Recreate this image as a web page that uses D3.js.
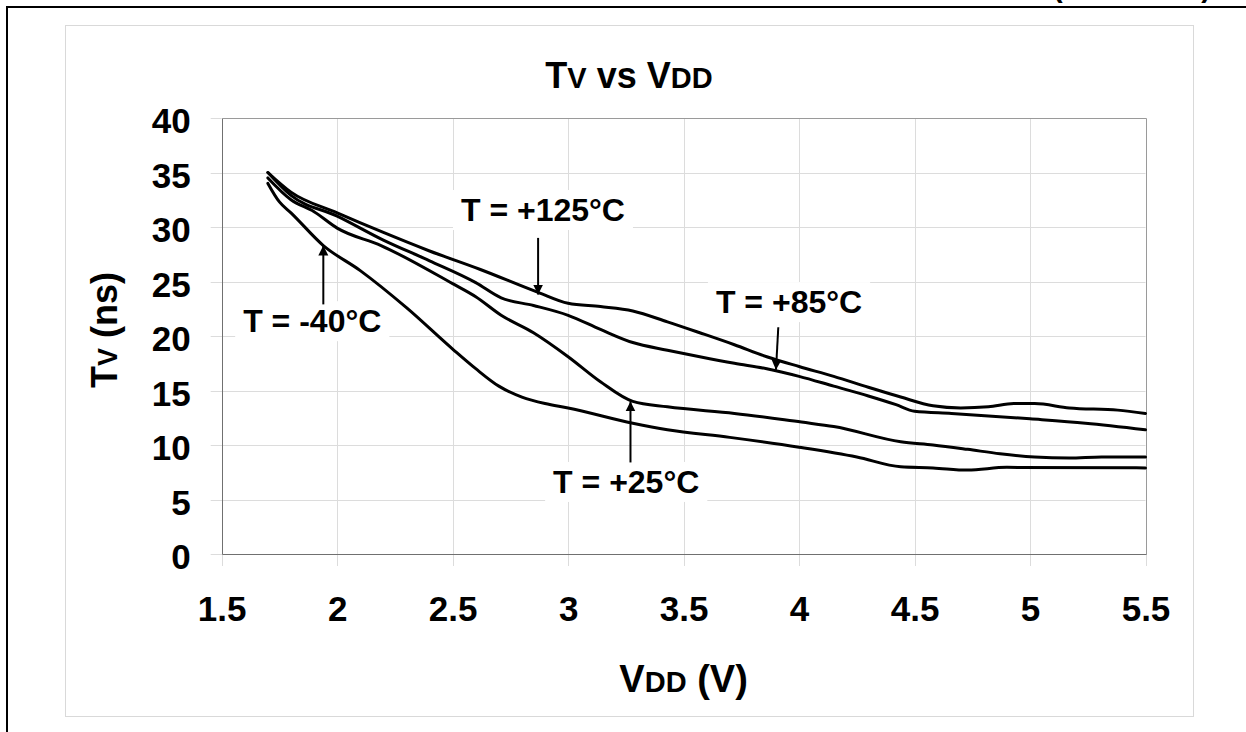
<!DOCTYPE html>
<html lang="en">

<head>
  <title>TV vs VDD</title>
  <meta charset="UTF-8">
  <style>
    body {
      margin: 0;
      background: #fff;
    }
    svg text {
      font-family: "Liberation Sans", Arial, sans-serif;
      font-weight: bold;
      fill: #000;
    }
  </style>
</head>

<body>
  <div id="container"></div>
  <script src="https://cdn.jsdelivr.net/npm/d3@7"></script>
  <script>
    // tick values
    const xTicks = [1.5, 2, 2.5, 3, 3.5, 4, 4.5, 5, 5.5];
    const yTicks = [0, 5, 10, 15, 20, 25, 30, 35, 40];

    // curves: [VDD, TV]
    const t125 = [[1.7, 35], [1.8, 33.2], [2.0, 31.3], [2.2, 29.5], [2.4, 27.8], [2.62, 26.1], [2.87, 24.0],
      [3.0, 23.0], [3.14, 22.7], [3.28, 22.3], [3.43, 21.3], [3.57, 20.3], [3.72, 19.2], [3.86, 18.1],
      [4.0, 17.2], [4.15, 16.3], [4.3, 15.3], [4.44, 14.4], [4.58, 13.6], [4.7, 13.4], [4.82, 13.5],
      [4.93, 13.8], [5.02, 13.8], [5.17, 13.4], [5.38, 13.2], [5.5, 12.9]];
    const t85 = [[1.7, 35], [1.8, 32.9], [2.0, 31.0], [2.2, 28.8], [2.4, 26.9], [2.6, 24.9], [2.71, 23.5],
      [2.85, 22.8], [3.0, 21.9], [3.14, 20.6], [3.28, 19.4], [3.43, 18.7], [3.57, 18.1], [3.72, 17.5],
      [3.86, 17.0], [4.0, 16.3], [4.15, 15.4], [4.3, 14.5], [4.42, 13.7], [4.5, 13.1], [4.66, 12.9],
      [5.0, 12.4], [5.24, 12.0], [5.5, 11.4]];
    const t25 = [[1.7, 34.5], [1.8, 32.5], [1.9, 31.4], [2.0, 29.9], [2.19, 28.3], [2.5, 24.8], [2.6, 23.6],
      [2.71, 21.9], [2.85, 20.3], [3.0, 18.1], [3.14, 15.8], [3.28, 14.0], [3.43, 13.5], [3.72, 12.9],
      [4.01, 12.1], [4.15, 11.7], [4.44, 10.3], [4.58, 10.0], [4.73, 9.6], [4.87, 9.2], [5.02, 8.9],
      [5.17, 8.8], [5.31, 8.9], [5.5, 8.9]];
    const tm40 = [[1.7, 34], [1.75, 32.3], [1.8, 31.3], [1.94, 28.3], [2.1, 26.0], [2.3, 22.6], [2.5, 18.8],
      [2.6, 17.0], [2.7, 15.4], [2.8, 14.4], [2.9, 13.8], [3.0, 13.4], [3.28, 12.0], [3.43, 11.4],
      [3.7, 10.7], [4.0, 9.8], [4.25, 8.9], [4.44, 8.0], [4.58, 7.9], [4.73, 7.7], [4.9, 7.95], [5.5, 7.9]];

    // labels with arrow start/end in data units
    const notes = [
      { text: 'T = +125°C', at: [2.536, 30.55], from: [2.87, 29.0], to: [2.87, 23.8] },
      { text: 'T = -40°C', at: [1.593, 20.35], from: [1.94, 22.9], to: [1.94, 28.3] },
      { text: 'T = +85°C', at: [3.64, 22.1], from: [3.91, 20.8], to: [3.9, 16.9] },
      { text: 'T = +25°C', at: [2.935, 5.6], from: [3.27, 8.4], to: [3.27, 14.0] }
    ];

    const W = 1246, H = 732;
    const plot = { left: 221.7, right: 1145.5, top: 118, bottom: 554 };

    const x = d3.scaleLinear().domain([1.5, 5.5]).range([plot.left, plot.right]);
    const y = d3.scaleLinear().domain([0, 40]).range([plot.bottom, plot.top]);

    const svg = d3.select('#container').append('svg')
      .attr('width', W).attr('height', H);

    // page frame
    svg.append('path').attr('d', `M7,${H} V7 H${W}`)
      .attr('fill', 'none').attr('stroke', '#000').attr('stroke-width', 2);
    svg.append('text').attr('x', 1053).attr('y', -3)
      .style('font-size', '29px').text('(continued)');

    // chart area
    svg.append('rect').attr('x', 65.5).attr('y', 25.5).attr('width', 1128).attr('height', 691)
      .attr('fill', '#fff').attr('stroke', '#d9d9d9');

    // grid
    svg.append('g').selectAll('line').data(yTicks.slice(0, -1)).join('line')
      .attr('x1', plot.left - 11).attr('x2', plot.right)
      .attr('y1', d => Math.round(y(d)) + 0.5).attr('y2', d => Math.round(y(d)) + 0.5)
      .attr('stroke', '#dcdcdc');
    svg.append('line').attr('x1', plot.left - 11).attr('x2', plot.left)
      .attr('y1', plot.top + 0.5).attr('y2', plot.top + 0.5).attr('stroke', '#dcdcdc');
    svg.append('g').selectAll('line').data(xTicks).join('line')
      .attr('x1', d => Math.round(x(d)) + 0.5).attr('x2', d => Math.round(x(d)) + 0.5)
      .attr('y1', d => (d === 1.5 || d === 5.5) ? plot.bottom : plot.top).attr('y2', plot.bottom + 12)
      .attr('stroke', '#dcdcdc');

    // plot border
    svg.append('path')
      .attr('d', `M${Math.round(plot.left) + 0.5},${plot.top + 0.5} H${Math.round(plot.right) + 0.5} V${plot.bottom + 0.5}`)
      .attr('fill', 'none').attr('stroke', '#9a9a9a');
    svg.append('path')
      .attr('d', `M${Math.round(plot.left) + 0.5},${plot.top + 0.5} V${plot.bottom + 0.5} H${Math.round(plot.right) + 0.5}`)
      .attr('fill', 'none').attr('stroke', '#707070');

    // axes (labels only)
    const yAxis = svg.append('g').attr('transform', `translate(${plot.left},0)`)
      .call(d3.axisLeft(y).tickValues(yTicks).tickSize(0).tickPadding(31).tickFormat(d3.format('d')));
    yAxis.select('.domain').remove();
    yAxis.selectAll('text').attr('dy', '0.42em').style('font-size', '35px');

    const xAxis = svg.append('g').attr('transform', `translate(0,${plot.bottom})`)
      .call(d3.axisBottom(x).tickValues(xTicks).tickSize(0).tickPadding(42).tickFormat(d => String(d)));
    xAxis.select('.domain').remove();
    xAxis.selectAll('text').style('font-size', '35px');

    // titles
    const title = svg.append('text').attr('x', 629).attr('y', 88)
      .attr('text-anchor', 'middle').style('font-size', '36px');
    title.append('tspan').text('T');
    title.append('tspan').style('font-size', '29px').text('V');
    title.append('tspan').text(' vs V');
    title.append('tspan').style('font-size', '29px').text('DD');

    const xTitle = svg.append('text').attr('x', (plot.left + plot.right) / 2).attr('y', 692)
      .attr('text-anchor', 'middle').style('font-size', '38px');
    xTitle.append('tspan').text('V');
    xTitle.append('tspan').style('font-size', '29px').text('DD');
    xTitle.append('tspan').text(' (V)');

    const yTitle = svg.append('text')
      .attr('transform', 'translate(117,330) rotate(-90)')
      .attr('text-anchor', 'middle').style('font-size', '36px');
    yTitle.append('tspan').text('T');
    yTitle.append('tspan').style('font-size', '27px').text('V');
    yTitle.append('tspan').text(' (ns)');

    // curves
    const line = d3.line().x(d => x(d[0])).y(d => y(d[1])).curve(d3.curveMonotoneX);
    svg.append('g').selectAll('path').data([t125, t85, t25, tm40]).join('path')
      .attr('d', line)
      .attr('fill', 'none').attr('stroke', '#000').attr('stroke-width', 3)
      .attr('stroke-linejoin', 'round').attr('stroke-linecap', 'round');

    // annotations
    svg.append('defs').append('marker')
      .attr('id', 'head').attr('viewBox', '0 0 10 10').attr('refX', 10).attr('refY', 5)
      .attr('markerWidth', 5).attr('markerHeight', 6).attr('orient', 'auto')
      .attr('markerUnits', 'strokeWidth')
      .append('path').attr('d', 'M0,0 L10,5 L0,10 z').attr('fill', '#000');

    const ann = svg.append('g');
    notes.forEach(n => {
      const t = ann.append('text').attr('x', x(n.at[0])).attr('y', y(n.at[1]))
        .style('font-size', '32px').text(n.text);
      const b = t.node().getBBox();
      ann.insert('rect', 'text').attr('x', b.x - 8).attr('y', b.y - 2)
        .attr('width', b.width + 16).attr('height', b.height + 4).attr('fill', '#fff');
      ann.append('line')
        .attr('x1', x(n.from[0])).attr('y1', y(n.from[1]))
        .attr('x2', x(n.to[0])).attr('y2', y(n.to[1]))
        .attr('stroke', '#000').attr('stroke-width', 2)
        .attr('marker-end', 'url(#head)');
    });
  </script>
</body>

</html>
